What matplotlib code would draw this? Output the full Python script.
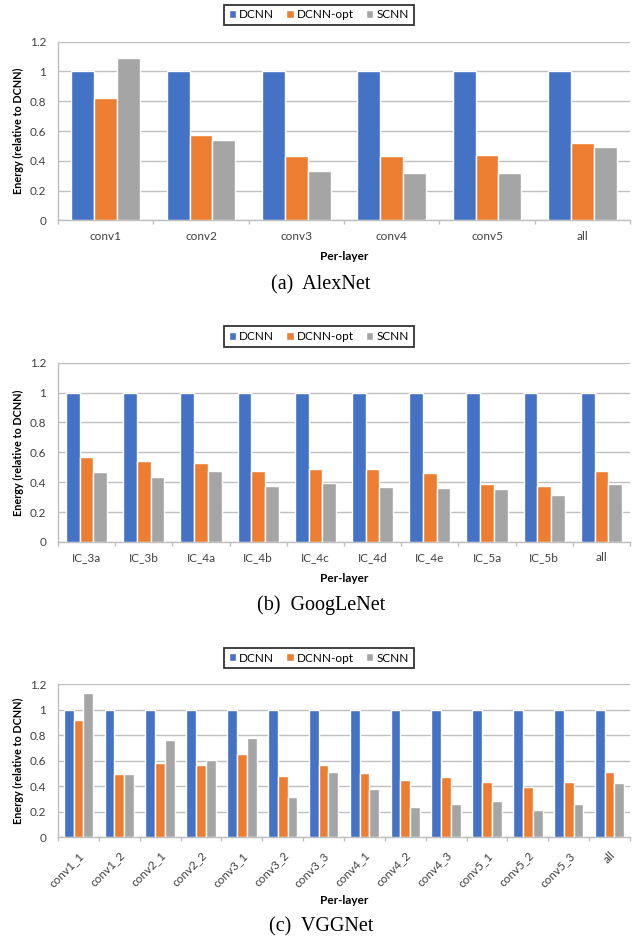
import matplotlib.pyplot as plt

plt.rcParams['font.family'] = ['Lato', 'DejaVu Sans']

series = ['DCNN', 'DCNN-opt', 'SCNN']
colors = ['#4472C4', '#ED7D31', '#A5A5A5']

alex_layers = ['conv1', 'conv2', 'conv3', 'conv4', 'conv5', 'all']
alex_dcnn = [1, 1, 1, 1, 1, 1]
alex_opt = [0.82, 0.57, 0.43, 0.43, 0.44, 0.52]
alex_scnn = [1.09, 0.54, 0.33, 0.32, 0.32, 0.49]

goog_layers = ['IC_3a', 'IC_3b', 'IC_4a', 'IC_4b', 'IC_4c',
               'IC_4d', 'IC_4e', 'IC_5a', 'IC_5b', 'all']
goog_dcnn = [1] * 10
goog_opt = [0.57, 0.54, 0.53, 0.475, 0.49, 0.487, 0.462, 0.388, 0.377, 0.475]
goog_scnn = [0.469, 0.437, 0.475, 0.377, 0.393, 0.368, 0.359, 0.355, 0.317, 0.388]

vgg_layers = ['conv1_1', 'conv1_2', 'conv2_1', 'conv2_2', 'conv3_1', 'conv3_2',
              'conv3_3', 'conv4_1', 'conv4_2', 'conv4_3', 'conv5_1', 'conv5_2',
              'conv5_3', 'all']
vgg_dcnn = [1] * 14
vgg_opt = [0.92, 0.496, 0.583, 0.567, 0.654, 0.478, 0.567, 0.504,
           0.446, 0.47, 0.433, 0.391, 0.43, 0.509]
vgg_scnn = [1.13, 0.496, 0.764, 0.604, 0.777, 0.312, 0.512, 0.378,
            0.234, 0.26, 0.281, 0.213, 0.26, 0.425]

W, H = 644, 941
fig = plt.figure(figsize=(W / 100, H / 100), dpi=100)

txt = '#404040'
grid = '#BFBFBF'
X0, X1 = 58, 630


def panel(top, bottom, layers, vals, legend_y, xlab_y, cap_y, caption, rotate=False):
    ax = fig.add_axes([X0 / W, 1 - bottom / H, (X1 - X0) / W, (bottom - top) / H])
    n = len(layers)
    pitch = 0.24
    for k, (name, v, c) in enumerate(zip(series, vals, colors)):
        xs = [i + (k - 1) * pitch for i in range(n)]
        ax.bar(xs, v, width=pitch, color=c, edgecolor='white', linewidth=1.0,
               label=name, zorder=3)
    ax.set_xlim(-0.5, n - 0.5)
    ax.set_ylim(0, 1.2)
    ax.set_yticks([0, 0.2, 0.4, 0.6, 0.8, 1, 1.2],
                  ['0', '0.2', '0.4', '0.6', '0.8', '1', '1.2'])
    ax.tick_params(axis='y', length=0, pad=8.5, labelsize=8.5, labelcolor=txt)
    ax.grid(axis='y', color=grid, linewidth=1.0, zorder=0)
    for s in ['top', 'right']:
        ax.spines[s].set_visible(False)
    for s in ['left', 'bottom']:
        ax.spines[s].set_color(grid)
        ax.spines[s].set_linewidth(1.0)
    ax.set_xticks(range(n))
    if rotate:
        ax.set_xticklabels(layers, rotation=45, ha='right', va='top',
                           rotation_mode='anchor')
        ax.tick_params(axis='x', which='major', length=0, pad=9, labelsize=8.5,
                       labelcolor=txt)
    else:
        ax.set_xticklabels(layers)
        ax.tick_params(axis='x', which='major', length=0, pad=7.5, labelsize=8.5,
                       labelcolor=txt)
    ax.set_xticks([i - 0.5 for i in range(n + 1)], minor=True)
    ax.tick_params(axis='x', which='minor', length=3.2, color=grid, width=1.0)
    ax.set_ylabel('Energy (relative to DCNN)', fontsize=7.8, fontweight='bold',
                  color='black')
    ax.yaxis.set_label_coords(-(X0 - 18.5) / (X1 - X0), 0.5)
    ax.yaxis.label.set_va('center')
    fig.text((X0 + X1) / 2 / W, 1 - xlab_y / H, 'Per-layer', ha='center', va='center',
             fontsize=8.5, fontweight='bold', color='black')
    h, l = ax.get_legend_handles_labels()
    leg = fig.legend(h, l, loc='center', bbox_to_anchor=(318.7 / W, 1 - legend_y / H),
                     ncol=3, fontsize=8.5, frameon=True, fancybox=False,
                     edgecolor='black', handlelength=0.63, handleheight=0.63,
                     handletextpad=0.28, columnspacing=1.0, borderpad=0.42,
                     borderaxespad=0)
    leg.get_frame().set_linewidth(1.3)
    fig.text(321 / W, 1 - cap_y / H, caption, ha='center', va='center',
             fontsize=14.5, family='Liberation Serif')
    return ax


panel(41.7, 220.3, alex_layers, [alex_dcnn, alex_opt, alex_scnn],
      15, 257, 285, '(a)  AlexNet')
panel(362.7, 542, goog_layers, [goog_dcnn, goog_opt, goog_scnn],
      336.5, 579, 605, '(b)  GoogLeNet')
panel(684.3, 837, vgg_layers, [vgg_dcnn, vgg_opt, vgg_scnn],
      658, 900, 927, '(c)  VGGNet', rotate=True)

fig.savefig('out.png', dpi=100)
